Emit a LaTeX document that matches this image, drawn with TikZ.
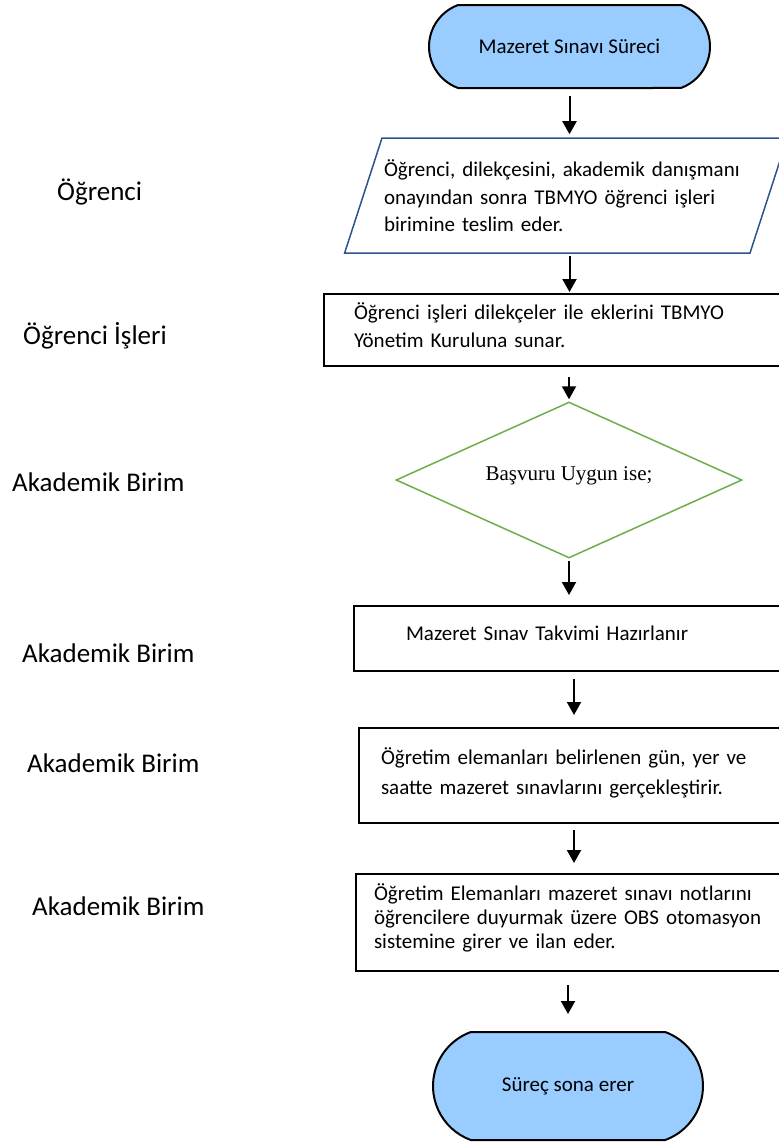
\documentclass[tikz,border=0pt]{standalone}
\usepackage{fontspec}
\setmainfont{Carlito}
\newfontfamily\diafont{Liberation Serif}
\usetikzlibrary{shapes,arrows.meta}
\definecolor{termblue}{HTML}{99CCFF}
\definecolor{parblue}{HTML}{2F528F}
\definecolor{diagreen}{HTML}{70AD47}
\newcommand{\boxfont}{\fontsize{21}{27.5}\selectfont}
\tikzstyle{terminal}=[rounded rectangle,
	rounded rectangle arc length=140,
	line width=2pt,
	draw=black,
	fill=termblue,
	inner sep=0pt,
	font=\boxfont]
\tikzstyle{io}=[trapezium,
	trapezium left angle=72,
	trapezium right angle=108,
	line width=1.5pt,
	draw=parblue,
	inner xsep=2pt,
	inner ysep=0pt,
	align=left,
	font=\boxfont]
\tikzstyle{process}=[rectangle,
	line width=2pt,
	draw=black,
	inner ysep=0pt,
	anchor=north west,
	align=left,
	font=\boxfont]
\tikzstyle{decision}=[diamond,
	aspect=2.2,
	line width=1.5pt,
	draw=diagreen,
	inner sep=0pt,
	font=\diafont\fontsize{21}{25}\selectfont]
\tikzstyle{actor}=[anchor=base west,
	inner sep=0pt,
	font=\fontsize{27}{32}\selectfont]
\tikzstyle{flow}=[line width=2pt,
	-{Triangle[width=14pt,length=13pt]}]

\begin{document}
\begin{tikzpicture}[x=1pt,y=-1pt]
	\useasboundingbox (0,0) rectangle (779,1144);
	\clip (0,0) rectangle (779,1144);

	\node (start) [terminal, minimum width=281pt, minimum height=83pt] at (569.5,46.5) {Mazeret Sınavı Süreci};
	\node (teslim) [io, text width=364pt, text height=38.5pt, text depth=76.5pt] at (566,195.5) {Öğrenci, dilekçesini, akademik danışmanı\\onayından sonra TBMYO öğrenci işleri\\birimine teslim eder.};
	\node (sunar) [process, text width=420pt, inner xsep=30pt, text height=25.5pt, text depth=46.5pt] at (323,293) {Öğrenci işleri dilekçeler ile eklerini TBMYO\\Yönetim Kuruluna sunar.};
	\node (uygun) [decision, minimum width=346pt, minimum height=156pt, text height=10pt, text depth=9pt] at (569,480) {Başvuru Uygun ise;};
	\node (takvim) [process, text width=332pt, inner xsep=52pt, text height=34.5pt, text depth=30.5pt] at (353,605) {Mazeret Sınav Takvimi Hazırlanır};
	\node (sinav) [process, text width=386pt, inner xsep=22pt, text height=36pt, text depth=59pt] at (358,727) {Öğretim elemanları belirlenen gün, yer ve\\[2.5pt]saatte mazeret sınavlarını gerçekleştirir.};
	\node (ilan) [process, text width=400pt, inner xsep=18pt, text height=26.5pt, text depth=70.5pt] at (355,873) {Öğretim Elemanları mazeret sınavı notlarını\\[-3.5pt]öğrencilere duyurmak üzere OBS otomasyon\\[-3.5pt]sistemine girer ve ilan eder.};
	\node (stop) [terminal, minimum width=270pt, minimum height=108pt] at (568,1086) {Süreç sona erer};

	\node (ogr) [actor] at (57,200) {Öğrenci};
	\node (ogrisl) [actor] at (23,344) {Öğrenci İşleri};
	\node (akd1) [actor] at (12,491) {Akademik Birim};
	\node (akd2) [actor] at (22,662) {Akademik Birim};
	\node (akd3) [actor] at (27,772) {Akademik Birim};
	\node (akd4) [actor] at (32,915) {Akademik Birim};

	\draw [flow, shorten <=7pt, shorten >=3pt] (start.south) -- (start.south |- teslim.north);
	\draw [flow, shorten <=2pt, shorten >=1pt] (teslim.south -| start) -- (sunar.north -| start);
	\draw [flow, shorten <=10pt, shorten >=2pt] (sunar.south -| uygun) -- (uygun.north);
	\draw [flow, shorten <=2pt, shorten >=10pt] (uygun.south) -- (uygun.south |- takvim.north);
	\draw [flow, shorten <=7pt, shorten >=12pt] (sinav.north |- takvim.south) -- (sinav.north);
	\draw [flow, shorten <=6pt, shorten >=10pt] (sinav.south) -- (sinav.south |- ilan.north);
	\draw [flow, shorten <=13pt, shorten >=17pt] (stop.north |- ilan.south) -- (stop.north);
\end{tikzpicture}
\end{document}
